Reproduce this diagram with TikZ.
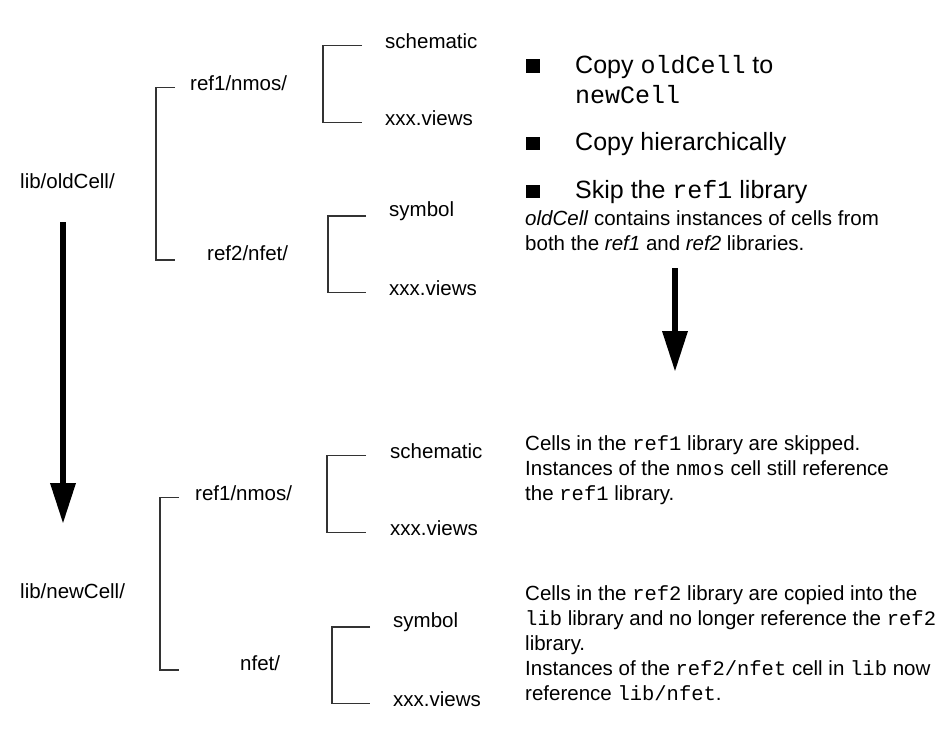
\documentclass[tikz,border=0pt]{standalone}
\usepackage{fontspec}
\setmainfont{Liberation Sans}
\setmonofont{Liberation Mono}
\usetikzlibrary{arrows.meta}

\begin{document}
\begin{tikzpicture}[x=1pt,y=-1pt,
    lbl/.style={font=\fontsize{20.5}{25}\selectfont, inner sep=0pt, anchor=base west},
    note/.style={lbl, align=left},
    big/.style={font=\fontsize{25}{30}\selectfont, inner sep=0pt, anchor=base west, align=left},
    tree/.style={draw=black!80, line width=1.1pt},
    bul/.style={fill=black, inner sep=0pt, minimum size=13.5pt},
    bigarrow/.style={line width=6.5pt, -{Triangle[length=41pt,width=24pt]}}]
  \useasboundingbox (0,0) rectangle (939,734);

  % old cell hierarchy
  \node[lbl] (old)  at (20,188)  {lib/oldCell/};
  \node[lbl] (r1)   at (190,90)  {ref1/nmos/};
  \node[lbl] (r2)   at (207,260) {ref2/nfet/};
  \node[lbl] (sch1) at (385,48)  {schematic};
  \node[lbl] (xv1)  at (385,125) {xxx.views};
  \node[lbl] (sym1) at (389,216) {symbol};
  \node[lbl] (xv2)  at (389,295) {xxx.views};

  \coordinate (s1) at (156,0); \coordinate (t1) at (175,0);
  \coordinate (s2) at (323,0); \coordinate (t2) at (362,0);
  \coordinate (s3) at (328,0); \coordinate (t3) at (366,0);
  \draw[tree] (t1 |- r1.mid) -| (s1 |- r2.base) -- (t1 |- r2.base);
  \draw[tree] (t2 |- sch1.mid) -| (s2 |- xv1.mid) -- (t2 |- xv1.mid);
  \draw[tree] (t3 |- sym1.base) -| (s3 |- xv2.mid) -- (t3 |- xv2.mid);

  % new cell hierarchy
  \node[lbl] (new)  at (20,598)  {lib/newCell/};
  \node[lbl] (r3)   at (195,500) {ref1/nmos/};
  \node[lbl] (n3)   at (240,670) {nfet/};
  \node[lbl] (sch2) at (390,458) {schematic};
  \node[lbl] (xv3)  at (390,535) {xxx.views};
  \node[lbl] (sym2) at (393,627) {symbol};
  \node[lbl] (xv4)  at (393,706) {xxx.views};

  \coordinate (s4) at (160,0); \coordinate (t4) at (179,0);
  \coordinate (s5) at (327,0); \coordinate (t5) at (366,0);
  \coordinate (s6) at (332,0); \coordinate (t6) at (370,0);
  \draw[tree] (t4 |- r3.mid) -| (s4 |- n3.base) -- (t4 |- n3.base);
  \draw[tree] (t5 |- sch2.mid) -| (s5 |- xv3.mid) -- (t5 |- xv3.mid);
  \draw[tree] (t6 |- sym2.base) -| (s6 |- xv4.mid) -- (t6 |- xv4.mid);

  % copy arrows
  \coordinate (la) at (63,222);  \coordinate (lb) at (63,524);
  \coordinate (ra) at (675,268); \coordinate (rb) at (675,372);
  \draw[bigarrow] (la) -- (lb);
  \draw[bigarrow] (ra) -- (rb);

  % options (base = last line)
  \node[bul] (b1) at (533,66) {};
  \node[big] (c1) at (575,103) {Copy \texttt{oldCell} to\\\texttt{newCell}};
  \node[bul] (b2) at (533,143.5) {};
  \node[big] (c2) at (575,150) {Copy hierarchically};
  \node[bul] (b3) at (533,191.5) {};
  \node[big] (c3) at (575,198) {Skip the \texttt{ref1} library};
  \node[note] (why) at (525,250)
    {\textit{oldCell} contains instances of cells from\\both the \textit{ref1} and \textit{ref2} libraries.};

  % results
  \node[note] (skip) at (525,500)
    {Cells in the \texttt{ref1} library are skipped.\\Instances of the \texttt{nmos} cell still reference\\the \texttt{ref1} library.};
  \node[note] (copy) at (525,700)
    {Cells in the \texttt{ref2} library are copied into the\\\texttt{lib} library and no longer reference the \texttt{ref2}\\library.\\Instances of the \texttt{ref2/nfet} cell in \texttt{lib} now\\reference \texttt{lib/nfet}.};
\end{tikzpicture}
\end{document}
